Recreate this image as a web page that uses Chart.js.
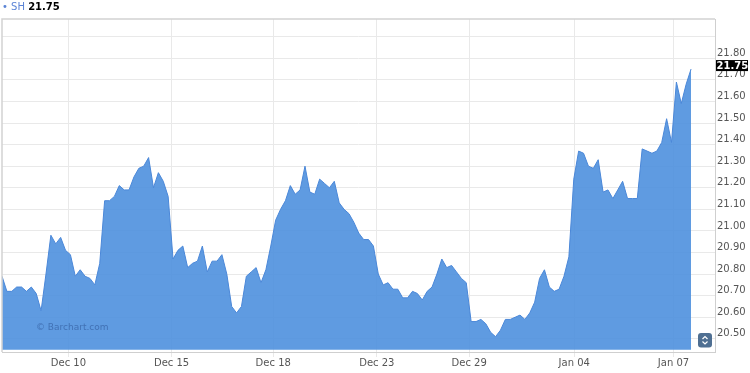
<!DOCTYPE html>
<html>
<head>
<meta charset="utf-8">
<script src="https://cdn.jsdelivr.net/npm/chart.js@4.4.1/dist/chart.umd.min.js"></script>
<style>
  html, body { margin: 0; padding: 0; background: #fff; }
  #wrap { position: relative; width: 750px; height: 373px; }
  #hdr { position: absolute; left: 2px; top: 0px; font: 10px "DejaVu Sans", sans-serif; line-height: 14px; white-space: nowrap; }
  #hdr .sym { color: #5b84d6; }
  #hdr b { color: #000; }
  #mark { position: absolute; left: 36px; top: 322px; font: 9px "DejaVu Sans", sans-serif; color: rgba(45, 85, 150, 0.6); }
</style>
</head>
<body>
<div id="wrap">
  <canvas id="chart" width="750" height="373"></canvas>
  <div id="hdr"><span class="sym">&bull; SH</span> <b id="lastPrice"></b></div>
  <div id="mark">&copy; Barchart.com</div>
</div>
<script>
// hourly closes, Dec 08 -> Jan 07
let prices = [
    20.79, 20.72, 20.72, 20.74, 20.74, 20.72, 20.74, 20.71, 20.63, 20.80,
    20.98, 20.94, 20.97, 20.91, 20.89, 20.79, 20.82, 20.79, 20.78, 20.75,
    20.85, 21.14, 21.14, 21.16, 21.21, 21.19, 21.19, 21.25, 21.29, 21.30,
    21.34, 21.20, 21.27, 21.23, 21.16, 20.87, 20.91, 20.93, 20.83, 20.85,
    20.86, 20.93, 20.81, 20.86, 20.86, 20.89, 20.80, 20.65, 20.62, 20.65,
    20.79, 20.81, 20.83, 20.76, 20.82, 20.93, 21.05, 21.10, 21.14, 21.21,
    21.17, 21.19, 21.30, 21.18, 21.17, 21.24, 21.22, 21.20, 21.23, 21.13,
    21.10, 21.08, 21.04, 20.99, 20.96, 20.96, 20.93, 20.80, 20.75, 20.76,
    20.73, 20.73, 20.69, 20.69, 20.72, 20.71, 20.68, 20.72, 20.74, 20.80,
    20.87, 20.83, 20.84, 20.81, 20.78, 20.76, 20.58, 20.58, 20.59, 20.57,
    20.53, 20.51, 20.54, 20.59, 20.59, 20.60, 20.61, 20.59, 20.62, 20.67,
    20.78, 20.82, 20.74, 20.72, 20.73, 20.79, 20.88, 21.24, 21.37, 21.36,
    21.30, 21.29, 21.33, 21.18, 21.19, 21.15, 21.19, 21.23, 21.15, 21.15,
    21.15, 21.38, 21.37, 21.36, 21.37, 21.41, 21.52, 21.41, 21.69, 21.59,
    21.68, 21.75
];

// day boundaries, in bar positions
let dayTicks = [13.6, 34.7, 55.5, 76.7, 95.6, 117.1, 137.4];
let dayLabels = ["Dec 10", "Dec 15", "Dec 18", "Dec 23", "Dec 29", "Jan 04", "Jan 07"];

let priceTicks = [20.5, 20.6, 20.7, 20.8, 20.9, 21.0, 21.1, 21.2, 21.3, 21.4, 21.5, 21.6, 21.7, 21.8, 21.9];
let lastPrice = prices[prices.length - 1];

document.getElementById("lastPrice").textContent = lastPrice.toFixed(2);

let extras = {
    id: "extras",
    afterDraw: function(chart)
    {
        let c = chart.ctx, a = chart.chartArea;
        c.save();

        // frame top + left
        c.strokeStyle = "#d2d2d2";
        c.lineWidth = 1.5;
        c.beginPath();
        c.moveTo(a.left, a.bottom);
        c.lineTo(a.left, a.top);
        c.lineTo(a.right, a.top);
        c.stroke();

        // last price badge
        let py = chart.scales.y.getPixelForValue(lastPrice) - 3.5;
        c.fillStyle = "#000";
        c.fillRect(a.right + 1, py - 5.5, 32, 11);
        c.fillStyle = "#fff";
        c.font = "bold 10px 'DejaVu Sans'";
        c.textAlign = "left";
        c.textBaseline = "middle";
        c.fillText(lastPrice.toFixed(2), a.right + 1.5, py + 0.5);

        // little scroll button
        let bx = a.right - 17, by = a.bottom - 19;
        c.fillStyle = "#4f6f92";
        c.beginPath();
        c.roundRect(bx, by, 14, 14.5, 3);
        c.fill();
        c.strokeStyle = "#fff";
        c.lineWidth = 1.2;
        c.beginPath();
        c.moveTo(bx + 4.5, by + 6); c.lineTo(bx + 7, by + 3.5); c.lineTo(bx + 9.5, by + 6);
        c.moveTo(bx + 4.5, by + 8.5); c.lineTo(bx + 7, by + 11); c.lineTo(bx + 9.5, by + 8.5);
        c.stroke();

        c.restore();
    }
};

let labelFont = { family: "DejaVu Sans", size: 10 };

let myChart = document.getElementById("chart").getContext("2d");
let display = new Chart(myChart,
{
    type: "line",
    data:
    {
        datasets: [
            {
                label: "SH",
                data: prices.map(function(v, i) { return { x: i, y: v }; }),
                fill: { value: 20.45 },
                backgroundColor: "rgba(78, 144, 222, 0.9)",
                borderColor: "#4a87d8",
                borderWidth: 1,
                pointRadius: 0,
                tension: 0
            }
        ]
    },
    options:
    {
        responsive: false,
        animation: false,
        layout: { padding: { top: 19, left: 2, right: 0, bottom: 0 } },
        plugins: { legend: { display: false }, tooltip: { enabled: false } },
        scales:
        {
            x:
            {
                type: "linear",
                min: 0,
                max: 145.9,
                afterBuildTicks: function(s) { s.ticks = dayTicks.map(function(v) { return { value: v }; }); },
                afterFit: function(s) { s.height = 21; s.paddingLeft = 0; s.paddingRight = 0; },
                ticks:
                {
                    autoSkip: false,
                    maxRotation: 0,
                    padding: 0,
                    color: "#555",
                    font: labelFont,
                    callback: function(v, i) { return dayLabels[i]; }
                },
                grid: { color: "#e9e9e9", tickLength: 5 },
                border: { color: "#cfcfcf" }
            },
            y:
            {
                position: "right",
                min: 20.439,
                max: 21.982,
                afterBuildTicks: function(s) { s.ticks = priceTicks.map(function(v) { return { value: v }; }); },
                afterFit: function(s) { s.width = 35; s.paddingTop = 0; s.paddingBottom = 0; },
                ticks:
                {
                    padding: 2,
                    labelOffset: -5,
                    color: "#555",
                    font: labelFont,
                    callback: function(v) { return v > 21.85 ? "" : v.toFixed(2); }
                },
                grid: { color: "#e9e9e9", drawTicks: false },
                border: { color: "#cfcfcf" }
            }
        }
    },
    plugins: [extras]
});
</script>
</body>
</html>
